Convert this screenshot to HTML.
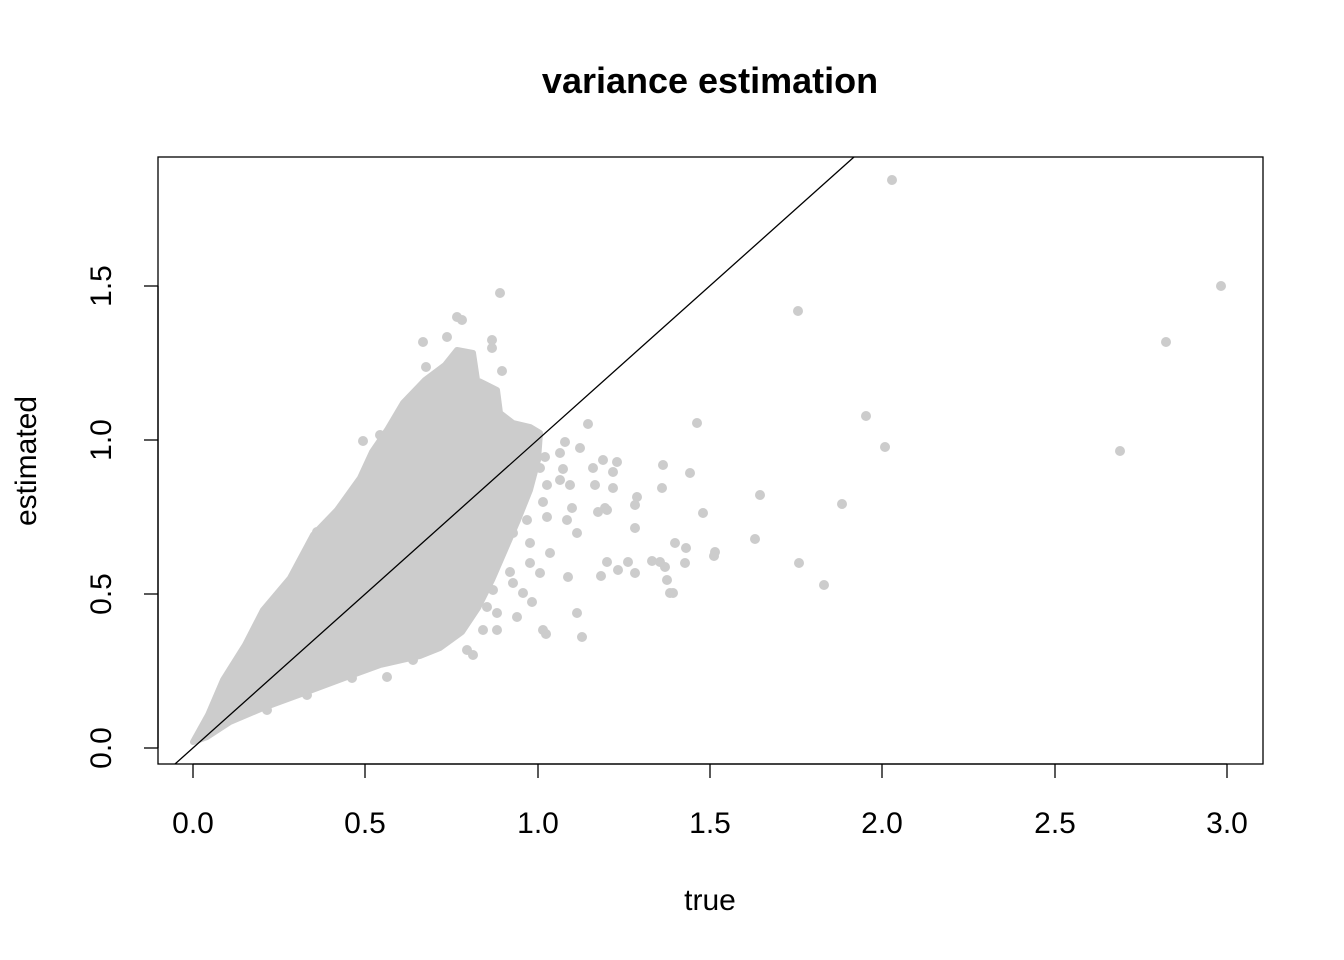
<!DOCTYPE html>
<html><head><meta charset="utf-8"><style>
html,body{margin:0;padding:0;background:#fff;}
svg{display:block;font-family:"Liberation Sans",Arial,sans-serif;}
</style></head><body>
<svg width="1344" height="960" viewBox="0 0 1344 960">
<rect width="1344" height="960" fill="#fff"/>
<text x="710" y="93" text-anchor="middle" font-size="36" font-weight="bold">variance estimation</text>
<g fill="#cccccc">
<polygon stroke="#cccccc" stroke-width="6" stroke-linejoin="round" points="193,742 208,715 223,680 245,645 263,610 290,578 313,535 337,510 360,478 372,452 387,430 403,403 425,380 445,365 457,350 473,353 477,380 497,390 500,413 513,423 530,427 540,433 538,460 530,490 518,520 505,550 492,580 478,608 462,632 440,648 420,656 380,665 347,677 307,692 263,708 230,722 207,737"/>
<g>
<circle cx="500" cy="293" r="5"/><circle cx="457" cy="317" r="5"/><circle cx="462" cy="320" r="5"/><circle cx="492" cy="340" r="5"/><circle cx="492" cy="348" r="5"/><circle cx="423" cy="342" r="5"/><circle cx="447" cy="337" r="5"/><circle cx="426" cy="367" r="5"/><circle cx="502" cy="371" r="5"/>
<circle cx="363" cy="441" r="5"/><circle cx="380" cy="435" r="5"/><circle cx="317" cy="532" r="5"/>
<circle cx="588" cy="424" r="5"/><circle cx="565" cy="442" r="5"/><circle cx="580" cy="448" r="5"/><circle cx="545" cy="457" r="5"/><circle cx="560" cy="453" r="5"/><circle cx="603" cy="460" r="5"/><circle cx="617" cy="462" r="5"/><circle cx="593" cy="468" r="5"/><circle cx="613" cy="472" r="5"/><circle cx="563" cy="469" r="5"/><circle cx="540" cy="468" r="5"/><circle cx="547" cy="485" r="5"/><circle cx="560" cy="480" r="5"/><circle cx="570" cy="485" r="5"/><circle cx="595" cy="485" r="5"/><circle cx="613" cy="488" r="5"/><circle cx="543" cy="502" r="5"/><circle cx="572" cy="508" r="5"/><circle cx="598" cy="512" r="5"/><circle cx="607" cy="510" r="5"/><circle cx="527" cy="520" r="5"/><circle cx="547" cy="517" r="5"/><circle cx="567" cy="520" r="5"/><circle cx="577" cy="533" r="5"/><circle cx="513" cy="533" r="5"/><circle cx="530" cy="543" r="5"/><circle cx="635" cy="528" r="5"/><circle cx="500" cy="553" r="5"/><circle cx="550" cy="553" r="5"/><circle cx="530" cy="563" r="5"/><circle cx="540" cy="573" r="5"/><circle cx="568" cy="577" r="5"/><circle cx="607" cy="562" r="5"/><circle cx="618" cy="570" r="5"/><circle cx="628" cy="562" r="5"/><circle cx="601" cy="576" r="5"/><circle cx="635" cy="573" r="5"/><circle cx="510" cy="572" r="5"/><circle cx="493" cy="590" r="5"/><circle cx="513" cy="583" r="5"/><circle cx="523" cy="593" r="5"/><circle cx="532" cy="602" r="5"/><circle cx="487" cy="607" r="5"/><circle cx="497" cy="613" r="5"/><circle cx="517" cy="617" r="5"/><circle cx="577" cy="613" r="5"/><circle cx="483" cy="630" r="5"/><circle cx="497" cy="630" r="5"/><circle cx="543" cy="630" r="5"/><circle cx="546" cy="634" r="5"/><circle cx="582" cy="637" r="5"/><circle cx="467" cy="650" r="5"/><circle cx="473" cy="655" r="5"/><circle cx="457" cy="627" r="5"/><circle cx="447" cy="613" r="5"/><circle cx="433" cy="643" r="5"/><circle cx="413" cy="660" r="5"/><circle cx="387" cy="677" r="5"/><circle cx="352" cy="678" r="5"/><circle cx="307" cy="695" r="5"/><circle cx="267" cy="710" r="5"/>
<circle cx="605" cy="508" r="5"/><circle cx="637" cy="497" r="5"/><circle cx="635" cy="505" r="5"/><circle cx="663" cy="465" r="5"/>
<circle cx="690" cy="473" r="5"/><circle cx="662" cy="488" r="5"/><circle cx="697" cy="423" r="5"/>
<circle cx="703" cy="513" r="5"/><circle cx="760" cy="495" r="5"/><circle cx="755" cy="539" r="5"/>
<circle cx="715" cy="552" r="5"/><circle cx="714" cy="556" r="5"/><circle cx="675" cy="543" r="5"/>
<circle cx="686" cy="548" r="5"/><circle cx="685" cy="563" r="5"/><circle cx="652" cy="561" r="5"/>
<circle cx="660" cy="562" r="5"/><circle cx="665" cy="567" r="5"/><circle cx="667" cy="580" r="5"/>
<circle cx="670" cy="593" r="5"/><circle cx="673" cy="593" r="5"/>
<circle cx="892" cy="180" r="5"/><circle cx="1221" cy="286" r="5"/><circle cx="798" cy="311" r="5"/>
<circle cx="1166" cy="342" r="5"/><circle cx="866" cy="416" r="5"/><circle cx="885" cy="447" r="5"/>
<circle cx="1120" cy="451" r="5"/><circle cx="842" cy="504" r="5"/><circle cx="799" cy="563" r="5"/>
<circle cx="824" cy="585" r="5"/>
</g>
</g>
<line x1="175" y1="764" x2="854" y2="157" stroke="#000" stroke-width="1.3"/>
<rect x="158" y="157" width="1105" height="607" fill="none" stroke="#000" stroke-width="1.3"/>
<g stroke="#000" stroke-width="1.3">
<line x1="193" y1="764" x2="1227" y2="764"/>
<line x1="193" y1="764" x2="193" y2="778"/><line x1="365" y1="764" x2="365" y2="778"/>
<line x1="538" y1="764" x2="538" y2="778"/><line x1="710" y1="764" x2="710" y2="778"/>
<line x1="882" y1="764" x2="882" y2="778"/><line x1="1055" y1="764" x2="1055" y2="778"/>
<line x1="1227" y1="764" x2="1227" y2="778"/>
<line x1="158" y1="748" x2="158" y2="286"/>
<line x1="144" y1="748" x2="158" y2="748"/><line x1="144" y1="594" x2="158" y2="594"/>
<line x1="144" y1="440" x2="158" y2="440"/><line x1="144" y1="286" x2="158" y2="286"/>
</g>
<g font-size="30" text-anchor="middle">
<text x="193" y="833">0.0</text><text x="365" y="833">0.5</text><text x="538" y="833">1.0</text>
<text x="710" y="833">1.5</text><text x="882" y="833">2.0</text><text x="1055" y="833">2.5</text>
<text x="1227" y="833">3.0</text>
<text x="710" y="910">true</text>
<text transform="translate(111,748) rotate(-90)">0.0</text>
<text transform="translate(111,594) rotate(-90)">0.5</text>
<text transform="translate(111,440) rotate(-90)">1.0</text>
<text transform="translate(111,286) rotate(-90)">1.5</text>
<text transform="translate(36,461) rotate(-90)">estimated</text>
</g>
</svg>
</body></html>
